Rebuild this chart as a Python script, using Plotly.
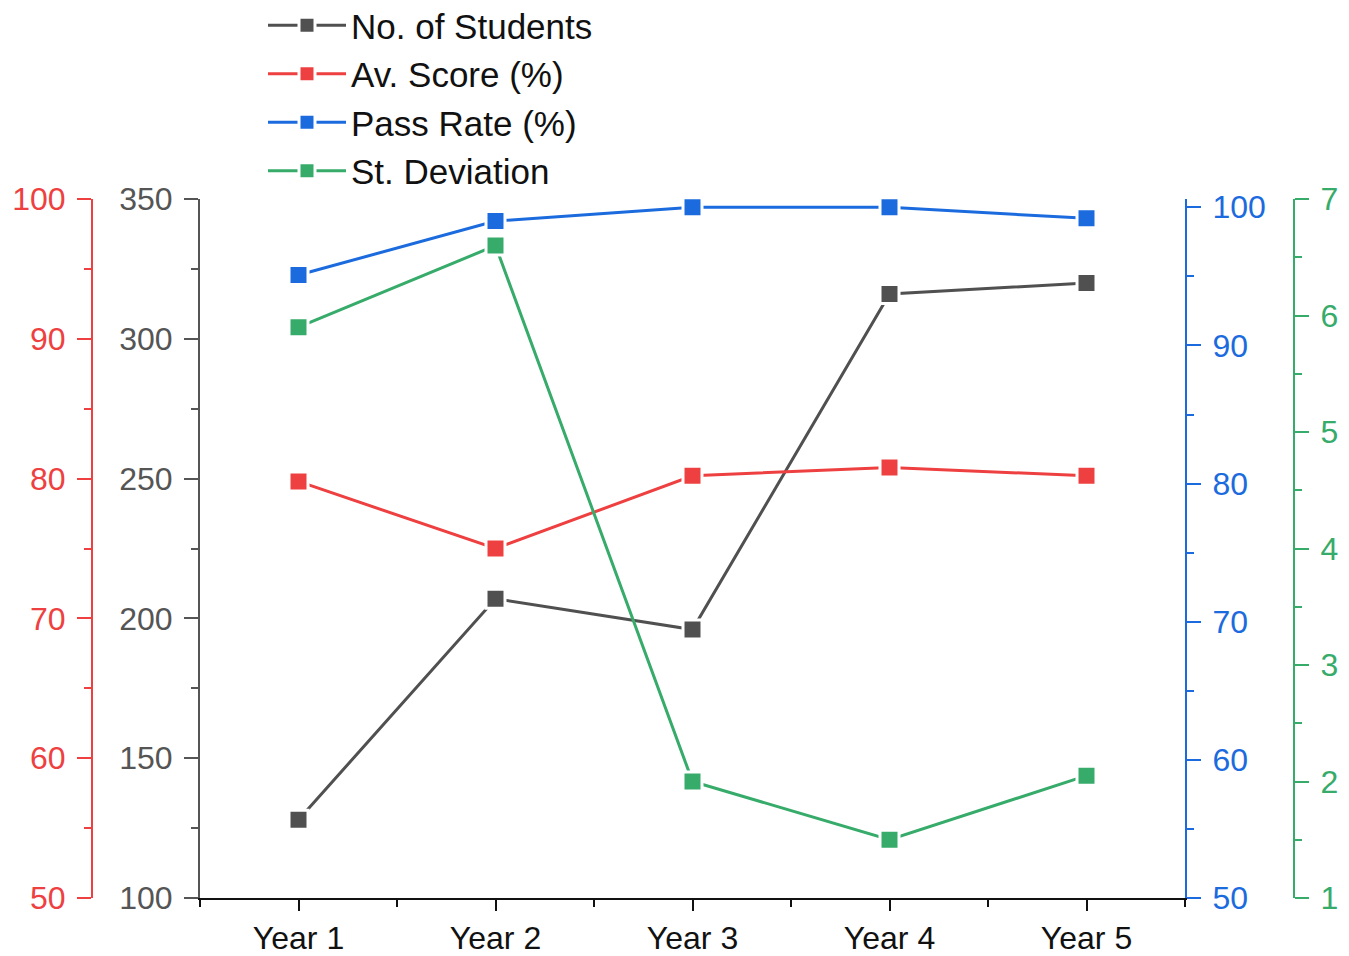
import plotly.graph_objects as go

years = ["Year 1", "Year 2", "Year 3", "Year 4", "Year 5"]
x_pos = [1, 2, 3, 4, 5]
students = [128, 207, 196, 316, 320]
av_score = [79.8, 75.0, 80.2, 80.8, 80.2]
pass_rate = [95.1, 99.0, 100.0, 100.0, 99.2]
st_dev = [5.9, 6.6, 2.0, 1.5, 2.05]

C_BLACK = "#505050"
C_RED = "#EE4040"
C_BLUE = "#1B6BDE"
C_GREEN = "#36AB6A"

OFF = 8  # page body margin
W, H = 1349 - OFF, 956 - OFF
FONT = "Liberation Sans, Arial, sans-serif"


def px(x):
    return (x - OFF) / W


def py(y):
    return 1 - (y - OFF) / H


x0, x1 = px(200), px(1185)
y0, y1 = py(898), py(199)


def trace(y, name, color, axis):
    return go.Scatter(
        x=x_pos, y=y, name=name, yaxis=axis, mode="lines+markers",
        line=dict(color=color, width=3),
        marker=dict(symbol="square", size=19, color=color,
                    line=dict(color="white", width=3)),
        cliponaxis=False,
    )


fig = go.Figure()
fig.add_trace(trace(students, "No. of Students", C_BLACK, "y"))
fig.add_trace(trace(av_score, "Av. Score (%)", C_RED, "y2"))
fig.add_trace(trace(pass_rate, "Pass Rate (%)", C_BLUE, "y3"))
fig.add_trace(trace(st_dev, "St. Deviation", C_GREEN, "y4"))


def yax(color, rng, dtick, minor, side, position=None, linecolor=None):
    lc = linecolor or color
    d = dict(
        range=rng, dtick=dtick, tick0=rng[0], domain=[y0, y1], side=side,
        showgrid=False, zeroline=False, showline=True,
        linecolor=lc, linewidth=2,
        ticks="outside", ticklen=14, tickwidth=2, tickcolor=lc,
        ticklabelstandoff=5,
        tickfont=dict(family=FONT, size=32, color=color),
        minor=dict(dtick=minor, ticks="outside", ticklen=7, tickwidth=2,
                   tickcolor=lc, showgrid=False),
        fixedrange=True,
    )
    if position is not None:
        d["anchor"] = "free"
        d["position"] = position
    else:
        d["anchor"] = "x"
    return d


fig.update_layout(
    width=W, height=H,
    margin=dict(l=0, r=0, t=0, b=0, autoexpand=False),
    paper_bgcolor="white", plot_bgcolor="white",
    font=dict(family=FONT),
    showlegend=True,
    legend=dict(
        x=px(263), y=py(-4), xanchor="left", yanchor="top",
        font=dict(family=FONT, size=35, color="#111111"),
        bgcolor="rgba(0,0,0,0)", itemwidth=78, tracegroupgap=0,
    ),
    xaxis=dict(
        domain=[x0, x1], range=[0.5, 5.5], anchor="y",
        tickvals=x_pos, ticktext=years,
        showgrid=False, zeroline=False, showline=True,
        linecolor="#111111", linewidth=2,
        ticks="outside", ticklen=11, tickwidth=2, tickcolor="#111111",
        tickfont=dict(family=FONT, size=32, color="#111111"),
        minor=dict(tick0=0.5, dtick=1, ticks="outside", ticklen=7,
                   tickwidth=2, tickcolor="#111111", showgrid=False),
        fixedrange=True,
    ),
    yaxis=yax("#555555", [100, 350], 50, 25, "left"),
    yaxis2=dict(**yax(C_RED, [50, 100], 10, 5, "left", position=px(92)),
                overlaying="y"),
    yaxis3=dict(**yax(C_BLUE, [50, 100.6], 10, 5, "right"), overlaying="y"),
    yaxis4=dict(**yax(C_GREEN, [1, 7], 1, 0.5, "right", position=px(1294)),
                overlaying="y"),
)
fig.update_layout(yaxis3=dict(tick0=50))

fig.write_html("out.html")
